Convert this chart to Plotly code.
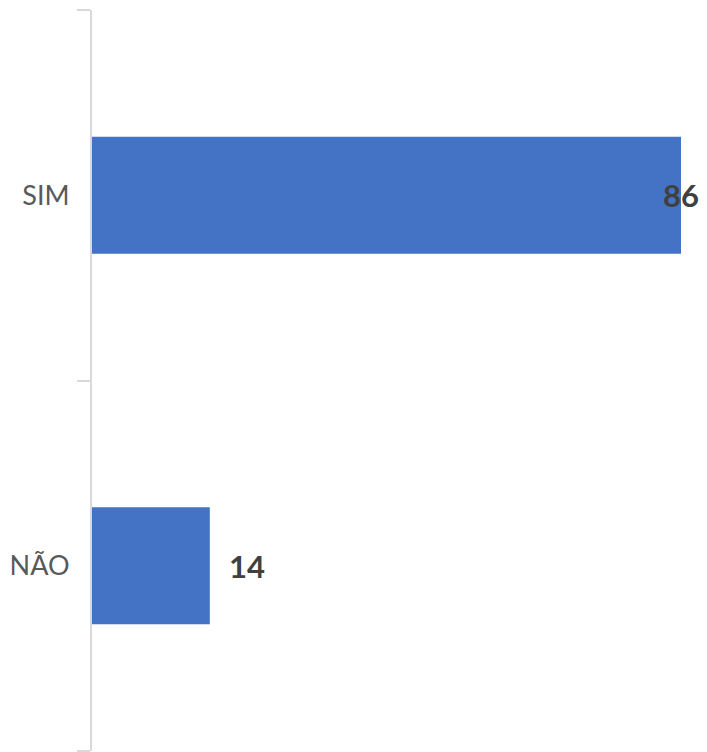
import plotly.graph_objects as go

categories = ["SIM", "NÃO"]
values = [86, 14]
value_labels = ["86", "14"]

AXIS_MIN = -4   # value axis minimum; bars grow from where the category axis crosses
AXIS_MAX = 86

BAR_COLOR = "#4472C4"
AXIS_COLOR = "#D9D9D9"

fig = go.Figure(
    go.Bar(
        y=categories,
        x=[v - AXIS_MIN for v in values],
        base=AXIS_MIN,
        orientation="h",
        marker=dict(color=BAR_COLOR, line=dict(width=0)),
        hovertemplate="%{y}: %{customdata}<extra></extra>",
        customdata=values,
    )
)

annotations = []
vmax = max(values)
for cat, v, lab in zip(categories, values, value_labels):
    if v == vmax:
        anchor, shift = "right", 20
    else:
        anchor, shift = "left", 17
    annotations.append(
        dict(
            x=v, y=cat, xref="x", yref="y",
            text=lab, showarrow=False,
            xanchor=anchor, yanchor="middle", xshift=shift,
            font=dict(family="Lato", size=31, color="#404040", weight="bold"),
        )
    )

fig.update_layout(
    width=707,
    height=752,
    margin=dict(l=92, r=26, t=10, b=1, pad=0),
    paper_bgcolor="white",
    plot_bgcolor="white",
    bargap=0.684,
    showlegend=False,
    annotations=annotations,
    xaxis=dict(
        range=[AXIS_MIN, AXIS_MAX],
        visible=False,
        showgrid=False,
        zeroline=False,
    ),
    yaxis=dict(
        type="category",
        categoryorder="array",
        categoryarray=categories[::-1],
        range=[-0.5, 1.5],
        showline=True,
        linecolor=AXIS_COLOR,
        linewidth=2,
        ticks="outside",
        tickson="boundaries",
        ticklen=13,
        tickwidth=2,
        tickcolor=AXIS_COLOR,
        showgrid=False,
        zeroline=False,
        tickfont=dict(family="Lato", size=27, color="#595959"),
        ticklabelstandoff=15,
    ),
)

fig.write_html(
    "out.html",
    config={"displayModeBar": False},
    post_script="document.body.style.margin='0';document.body.style.padding='0';",
)
